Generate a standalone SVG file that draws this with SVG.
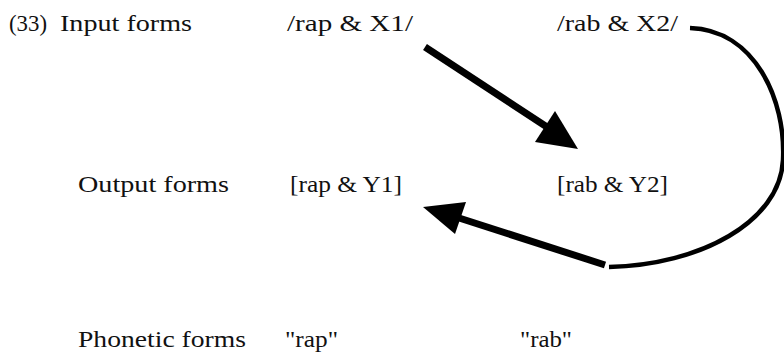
<svg xmlns="http://www.w3.org/2000/svg" width="784" height="357" viewBox="0 0 784 357">
<style>
text{font-family:"Liberation Serif","Times New Roman",serif;font-size:24px;fill:#111;}
.arr{stroke:#000;stroke-width:7;fill:none;stroke-linecap:butt;}
.crv{stroke:#000;stroke-width:4.5;fill:none;}
.head{fill:#000;}
</style>
<rect width="784" height="357" fill="#fff"/>
<g id="label-33"><text x="9" y="31" textLength="38" lengthAdjust="spacingAndGlyphs">(33)</text></g>
<g id="row-input"><text x="60" y="31" textLength="132" lengthAdjust="spacingAndGlyphs">Input forms</text></g>
<g id="input1"><text x="287" y="31" textLength="126" lengthAdjust="spacingAndGlyphs">/rap &amp; X1/</text></g>
<g id="input2"><text x="557" y="31" textLength="121" lengthAdjust="spacingAndGlyphs">/rab &amp; X2/</text></g>
<g id="row-output"><text x="78" y="192" textLength="151" lengthAdjust="spacingAndGlyphs">Output forms</text></g>
<g id="output1"><text x="290" y="192" textLength="112" lengthAdjust="spacingAndGlyphs">[rap &amp; Y1]</text></g>
<g id="output2"><text x="557" y="192" textLength="111" lengthAdjust="spacingAndGlyphs">[rab &amp; Y2]</text></g>
<g id="row-phonetic"><text x="78" y="347" textLength="168" lengthAdjust="spacingAndGlyphs">Phonetic forms</text></g>
<g id="phon1"><text x="285" y="347" textLength="53" lengthAdjust="spacingAndGlyphs">"rap"</text></g>
<g id="phon2"><text x="520" y="347" textLength="52" lengthAdjust="spacingAndGlyphs">"rab"</text></g>
<g id="connectors">
<line class="arr" x1="425" y1="47" x2="550" y2="129"/>
<polygon class="head" points="578,149 535,142 555,111"/>
<path class="crv" d="M690,28 C755,30 786,100 783,160 C780,222 700,265 609,267"/>
<line class="arr" x1="605" y1="265" x2="456" y2="217"/>
<polygon class="head" points="423,207 466,202 455,234"/>
</g>
</svg>
